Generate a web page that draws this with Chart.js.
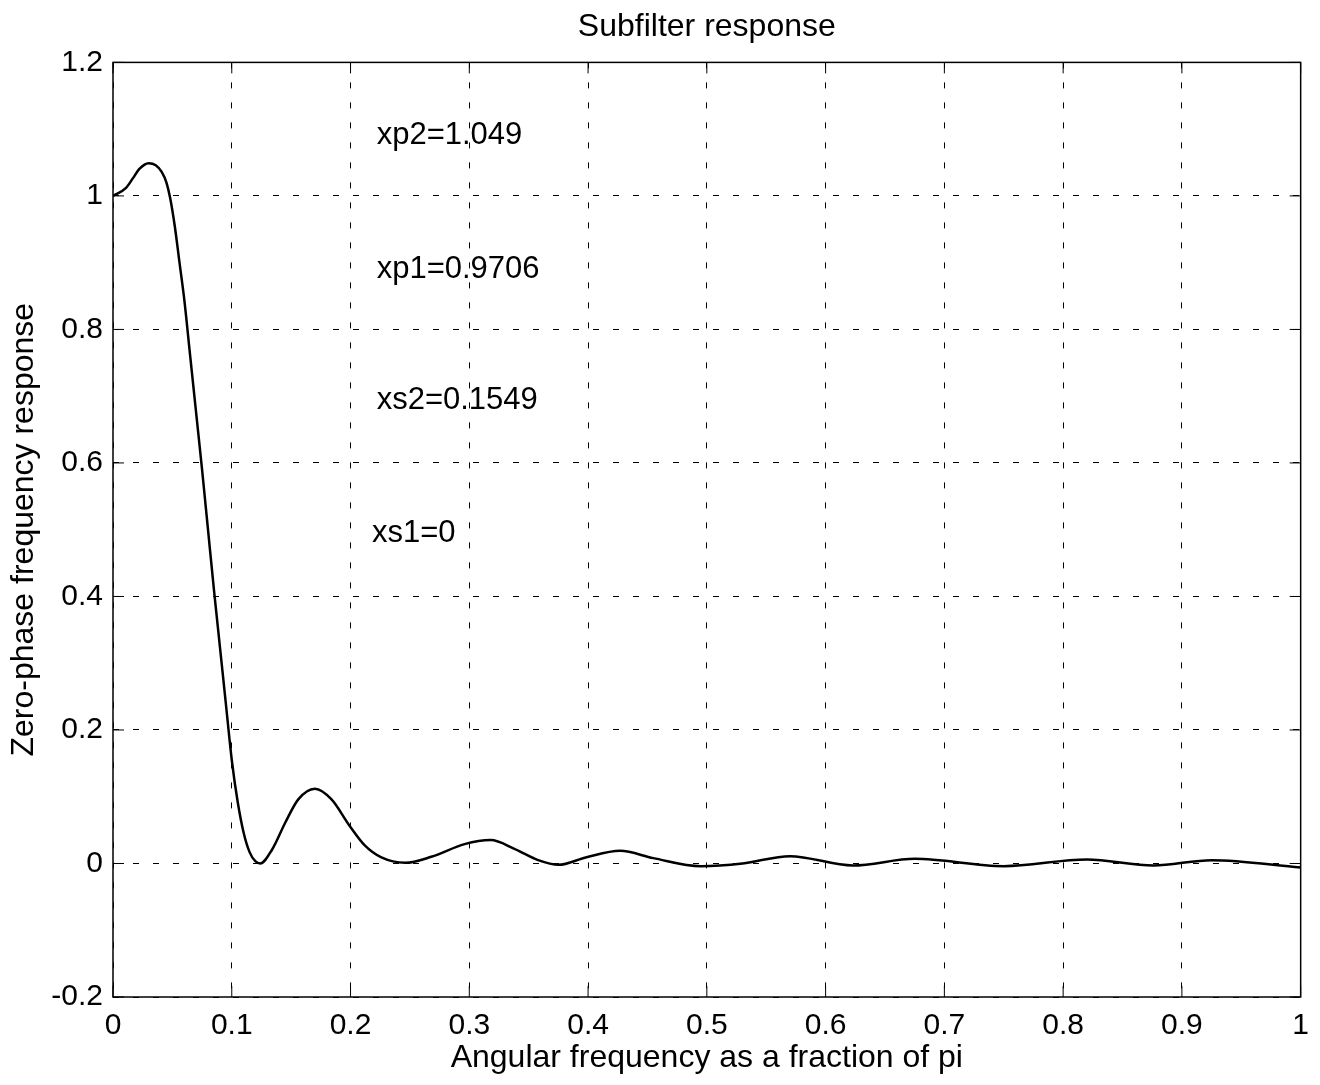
<!DOCTYPE html>
<html>
<head>
<meta charset="utf-8">
<script src="https://cdn.jsdelivr.net/npm/chart.js@4.4.1/dist/chart.umd.min.js"></script>
<style>
  html, body { margin: 0; padding: 0; background: #fff; }
  #wrap { width: 1320px; height: 1085px; }
</style>
</head>
<body>
<div id="wrap"><canvas id="plot" width="1320" height="1085"></canvas></div>
<script>
// frequency (fraction of pi) and zero-phase response
const freq = [0, 0.011, 0.017, 0.022, 0.030, 0.036, 0.041, 0.045, 0.048, 0.052,
  0.056, 0.060, 0.065, 0.070, 0.075, 0.080, 0.085, 0.090, 0.095, 0.100,
  0.105, 0.110, 0.115, 0.120, 0.124, 0.134, 0.145, 0.156, 0.170, 0.184,
  0.199, 0.212, 0.226, 0.246, 0.268, 0.296, 0.318, 0.338, 0.358, 0.375,
  0.398, 0.427, 0.455, 0.495, 0.530, 0.570, 0.623, 0.675, 0.750, 0.820,
  0.876, 0.925, 1.0];
const response = [1.0, 1.012, 1.027, 1.040, 1.049, 1.046, 1.036, 1.020, 0.998, 0.955,
  0.90, 0.845, 0.76, 0.675, 0.59, 0.50, 0.41, 0.325, 0.24, 0.155,
  0.092, 0.046, 0.017, 0.003, 0.0, 0.021, 0.061, 0.096, 0.112, 0.096,
  0.057, 0.027, 0.009, 0.001, 0.010, 0.029, 0.035, 0.022, 0.005, -0.002,
  0.009, 0.019, 0.008, -0.004, 0.0, 0.011, -0.003, 0.007, -0.004, 0.006,
  -0.003, 0.005, -0.006];

const xTicks = [0, 0.1, 0.2, 0.3, 0.4, 0.5, 0.6, 0.7, 0.8, 0.9, 1];
const yTicks = [-0.2, 0, 0.2, 0.4, 0.6, 0.8, 1, 1.2];

const noteText = ['xp2=1.049', 'xp1=0.9706', 'xs2=0.1549', 'xs1=0'];
const noteX = [0.222, 0.222, 0.222, 0.218];
const noteY = [1.09, 0.89, 0.693, 0.495];

const FONT = 'Liberation Sans, Arial, Helvetica, sans-serif';

const points = freq.map((f, i) => ({ x: f, y: response[i] }));

// box, inward tick marks and the text notes, matlab style
const frame = {
  id: 'frame',
  afterDatasetsDraw(chart) {
    const { ctx, chartArea: a, scales } = chart;
    ctx.save();
    ctx.strokeStyle = '#000';
    ctx.lineWidth = 1.5;
    ctx.setLineDash([]);
    ctx.strokeRect(a.left, a.top, a.right - a.left, a.bottom - a.top);
    ctx.lineWidth = 1;
    ctx.beginPath();
    xTicks.forEach(v => {
      const px = scales.x.getPixelForValue(v);
      ctx.moveTo(px, a.bottom); ctx.lineTo(px, a.bottom - 11);
      ctx.moveTo(px, a.top); ctx.lineTo(px, a.top + 11);
    });
    yTicks.forEach(v => {
      const py = scales.y.getPixelForValue(v);
      ctx.moveTo(a.left, py); ctx.lineTo(a.left + 11, py);
      ctx.moveTo(a.right, py); ctx.lineTo(a.right - 11, py);
    });
    ctx.stroke();

    ctx.fillStyle = '#000';
    ctx.font = '31px ' + FONT;
    ctx.textAlign = 'left';
    ctx.textBaseline = 'middle';
    noteText.forEach((t, i) => {
      ctx.fillText(t, scales.x.getPixelForValue(noteX[i]), scales.y.getPixelForValue(noteY[i]));
    });
    ctx.restore();
  }
};

const config = {
  type: 'line',
  data: {
    datasets: [{
      data: points,
      borderColor: '#000',
      borderWidth: 2.5,
      pointRadius: 0,
      fill: false,
      cubicInterpolationMode: 'monotone'
    }]
  },
  options: {
    responsive: false,
    animation: false,
    layout: { padding: { right: 14, bottom: 0, left: 0, top: 0 } },
    plugins: {
      legend: { display: false },
      tooltip: { enabled: false },
      title: {
        display: true,
        fullSize: false,
        text: 'Subfilter response',
        color: '#000',
        font: { family: FONT, size: 32, weight: 'normal' },
        padding: { top: 8, bottom: 16 }
      }
    },
    scales: {
      x: {
        type: 'linear',
        min: 0,
        max: 1,
        afterFit(s) { s.height = 88; },
        afterBuildTicks(s) { s.ticks = xTicks.map(v => ({ value: v })); },
        ticks: {
          color: '#000',
          padding: 11,
          maxRotation: 0,
          font: { family: FONT, size: 30 },
          callback: v => String(Number(v.toFixed(1)))
        },
        grid: { color: '#000', lineWidth: 1, drawTicks: false },
        border: { display: false, dash: [6, 14] },
        title: {
          display: true,
          text: 'Angular frequency as a fraction of pi',
          color: '#000',
          font: { family: FONT, size: 32 },
          padding: { top: 0, bottom: 8 }
        }
      },
      y: {
        type: 'linear',
        min: -0.2,
        max: 1.2,
        afterFit(s) { s.width = 113; },
        afterBuildTicks(s) { s.ticks = yTicks.map(v => ({ value: v })); },
        ticks: {
          color: '#000',
          padding: 10,
          font: { family: FONT, size: 30 },
          callback: v => String(Number(v.toFixed(1)))
        },
        grid: { color: '#000', lineWidth: 1, drawTicks: false },
        border: { display: false, dash: [6, 14] },
        title: {
          display: true,
          text: 'Zero-phase frequency response',
          color: '#000',
          font: { family: FONT, size: 32 },
          padding: { top: 5, bottom: 0 }
        }
      }
    }
  },
  plugins: [frame]
};

const canvas = document.getElementById('plot');
if (canvas) {
  new Chart(canvas.getContext('2d'), config);
} else {
  console.error('canvas not found');
}
</script>
</body>
</html>
